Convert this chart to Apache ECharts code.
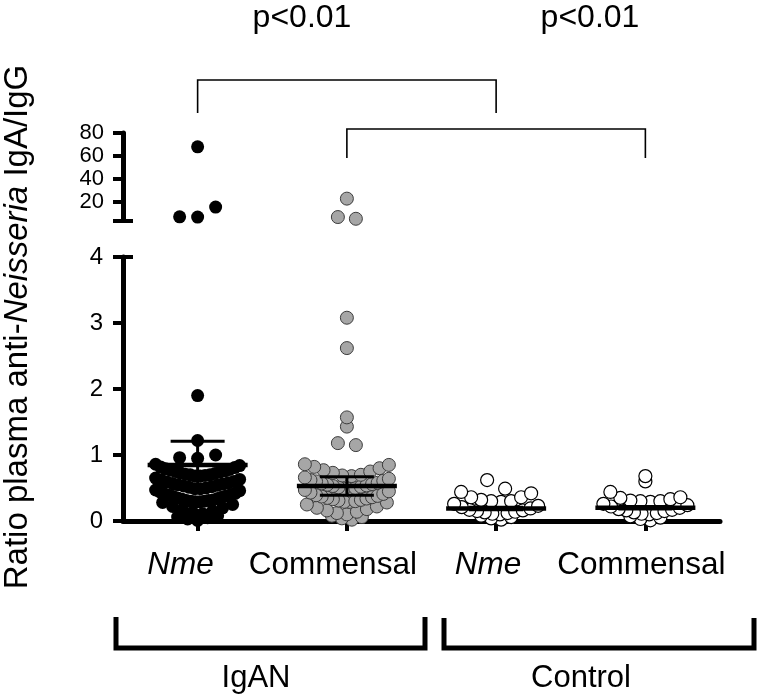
<!DOCTYPE html>
<html><head><meta charset="utf-8">
<script src="https://cdn.jsdelivr.net/npm/echarts@6/dist/echarts.min.js"></script>
<style>html,body{margin:0;padding:0;background:#fff}#c{width:759px;height:698px}</style>
</head><body><div id="c"></div><script>
// ---------------- data ----------------
const categories = ['Nme', 'Commensal', 'Nme', 'Commensal'];
const groupLabels = ['IgAN', 'Control'];
const nmeIgAN = [68, 15.7, 7.2, 7, 1.9, 1.22, 1.0, 0.96, 0.95,
  0.68, 0.68, 0.69, 0.70, 0.70, 0.71, 0.72, 0.73, 0.74, 0.75, 0.76, 0.77, 0.78, 0.79, 0.81, 0.82, 0.84, 0.86,
  0.49, 0.49, 0.50, 0.51, 0.52, 0.53, 0.54, 0.55, 0.56, 0.57, 0.58, 0.59, 0.60, 0.62, 0.63, 0.65,
  0.29, 0.29, 0.30, 0.30, 0.31, 0.31, 0.32, 0.33, 0.34, 0.35, 0.36, 0.37, 0.38, 0.39, 0.40, 0.41, 0.42, 0.44, 0.46, 0.47,
  0.11, 0.13, 0.15, 0.17, 0.20, 0.22, 0.25, 0.28,
  0.01, 0.03, 0.05, 0.06, 0.08];
const commensalIgAN = [23, 7, 5.5, 3.08, 2.62, 1.57, 1.43, 1.18, 1.15,
  0.68, 0.69, 0.70, 0.73, 0.75, 0.77, 0.80, 0.82, 0.85, 0.86,
  0.49, 0.49, 0.50, 0.51, 0.52, 0.53, 0.54, 0.55, 0.56, 0.57, 0.58, 0.60, 0.61, 0.62, 0.64, 0.66,
  0.29, 0.29, 0.30, 0.31, 0.32, 0.33, 0.34, 0.35, 0.36, 0.37, 0.38, 0.39, 0.41, 0.43, 0.45, 0.47,
  0.10, 0.12, 0.14, 0.16, 0.18, 0.20, 0.22, 0.25, 0.28,
  0.02, 0.04, 0.06, 0.08];
const nmeControl = [0.62,
  0.29, 0.30, 0.30, 0.32, 0.36, 0.36, 0.42, 0.44, 0.49,
  0.10, 0.11, 0.12, 0.13, 0.14, 0.15, 0.16, 0.17, 0.19, 0.21, 0.23, 0.26,
  0.02, 0.04, 0.06, 0.08];
const commensalControl = [0.68, 0.60,
  0.29, 0.30, 0.30, 0.31, 0.33, 0.35, 0.36, 0.44,
  0.10, 0.11, 0.12, 0.13, 0.15, 0.16, 0.17, 0.18, 0.20, 0.22, 0.24, 0.26,
  0.01, 0.03, 0.05, 0.07];
const means = [0.85, 0.53, 0.19, 0.20];
const errors = [0.36, 0.14, 0.02, 0.02];
const lowerTicks = [0, 1, 2, 3, 4];
const upperTicks = [20, 40, 60, 80];
const pLabels = ['p<0.01', 'p<0.01'];
const comparisons = [[0, 2], [1, 3]];

// ---------------- layout / style ----------------
const FONT = 'Liberation Sans, Arial, Helvetica, sans-serif';
const BREAK_LOW = 4, UPPER_MAX = 80;
const SYMBOL = 13;
const ROW_MAX_W = 84, SPACING_FEW = 18, SPACING_MANY = 10;
const groupsData = [nmeIgAN, commensalIgAN, nmeControl, commensalControl];
const groupStyles = [
  { color: '#000000', borderColor: '#000000', borderWidth: 0 },
  { color: '#a6a6a6', borderColor: '#3c3c3c', borderWidth: 1 },
  { color: '#ffffff', borderColor: '#000000', borderWidth: 1.2 },
  { color: '#ffffff', borderColor: '#000000', borderWidth: 1.2 }
];

// GraphPad-like dot layout: values binned into rows one symbol high,
// within a row sorted ascending and spread from the centre outwards.
function swarm(vals, binSize, origin) {
  const rows = {};
  vals.forEach(v => {
    const k = Math.floor((v - origin) / binSize);
    (rows[k] = rows[k] || []).push(v);
  });
  const out = [];
  Object.keys(rows).map(Number).sort((a, b) => a - b).forEach(k => {
    const r = rows[k].slice().sort((a, b) => a - b);
    const n = r.length;
    const s = n <= 1 ? 0 : (n <= 3 ? SPACING_FEW : Math.min(SPACING_MANY, ROW_MAX_W / (n - 1)));
    r.forEach((v, i) => {
      let off;
      if (n % 2 === 1) { const j = Math.ceil(i / 2); off = (i % 2 === 1 ? -1 : 1) * j * s; }
      else { const j = Math.floor(i / 2); off = (i % 2 === 0 ? 1 : -1) * (j + 0.5) * s; }
      out.push({ v, off });
    });
  });
  return out;
}

const series = [];
groupsData.forEach((vals, gi) => {
  const low = vals.filter(v => v <= BREAK_LOW);
  const high = vals.filter(v => v > BREAK_LOW);
  const st = groupStyles[gi];
  const mk = (arr, xi, yi) => ({
    type: 'scatter', xAxisIndex: xi, yAxisIndex: yi, symbol: 'circle', symbolSize: SYMBOL,
    clip: false, z: 2, silent: true,
    itemStyle: { color: st.color, borderColor: st.borderColor, borderWidth: st.borderWidth, opacity: 1 },
    data: arr.map(p => ({ value: [gi, p.v], symbolOffset: [p.off, 0] }))
  });
  series.push(mk(swarm(high, 12, BREAK_LOW), 0, 0));
  series.push(mk(swarm(low, 0.195, 0.09), 1, 2));
});

// mean + error bars
series.push({
  type: 'custom', xAxisIndex: 1, yAxisIndex: 2, z: 5, silent: true, clip: false,
  data: means.map((m, i) => [i, m, errors[i]]),
  renderItem(params, api) {
    const x = api.value(0), m = api.value(1), e = api.value(2);
    const c = api.coord([x, m]), t = api.coord([x, m + e]), b = api.coord([x, m - e]);
    const ls = { stroke: '#000', lineWidth: 3 };
    return { type: 'group', children: [
      { type: 'line', shape: { x1: c[0], y1: t[1], x2: c[0], y2: b[1] }, style: ls },
      { type: 'line', shape: { x1: c[0] - 27, y1: t[1], x2: c[0] + 27, y2: t[1] }, style: ls },
      { type: 'line', shape: { x1: c[0] - 27, y1: b[1], x2: c[0] + 27, y2: b[1] }, style: ls },
      { type: 'line', shape: { x1: c[0] - 50, y1: c[1], x2: c[0] + 50, y2: c[1] }, style: { stroke: '#000', lineWidth: 4.5 } }
    ]};
  }
});

// significance brackets (anchored to the category positions)
const bracketRise = [53, 4], bracketDrop = [33, 29];
series.push({
  type: 'custom', xAxisIndex: 0, yAxisIndex: 0, z: 5, silent: true, clip: false,
  data: comparisons,
  renderItem(params, api) {
    const i = params.dataIndex;
    const a = api.coord([api.value(0), UPPER_MAX]), b = api.coord([api.value(1), UPPER_MAX]);
    const top = a[1] - bracketRise[i], bot = top + bracketDrop[i];
    return { type: 'polyline', shape: { points: [[a[0], bot], [a[0], top], [b[0], top], [b[0], bot]] },
      style: { stroke: '#000', lineWidth: 1.6, fill: null } };
  }
});

const labelShift = [34, 28, 16, 8];
const rich = {};
categories.forEach((c, i) => {
  rich['c' + i] = { fontSize: 31.5, lineHeight: 32, fontFamily: FONT, color: '#000',
    fontStyle: c === 'Nme' ? 'italic' : 'normal', padding: [0, labelShift[i], 0, 0] };
});

const gridPos = { left: 123, right: 39 };
const option = {
  animation: false,
  backgroundColor: '#fff',
  grid: [
    Object.assign({ top: 133, height: 87.5, outerBoundsMode: 'none' }, gridPos),
    Object.assign({ top: 257, height: 264, outerBoundsMode: 'none' }, gridPos),
    Object.assign({ top: 133, height: 388, outerBoundsMode: 'none' }, gridPos)
  ],
  xAxis: [
    { gridIndex: 0, type: 'category', data: categories, show: false },
    { gridIndex: 1, type: 'category', data: categories,
      axisLine: { show: true, lineStyle: { color: '#000', width: 5 } },
      axisTick: { show: true, alignWithLabel: true, length: 10, lineStyle: { color: '#000', width: 4 } },
      axisLabel: { interval: 0, margin: 28, formatter: (v, i) => '{c' + i + '|' + v + '}', rich },
      splitLine: { show: false } },
    { gridIndex: 2, type: 'category', data: categories, show: false }
  ],
  yAxis: [
    { gridIndex: 0, type: 'value', min: BREAK_LOW, max: UPPER_MAX, position: 'left',
      axisLine: { show: true, lineStyle: { color: '#000', width: 5 } },
      axisTick: { show: true, length: 10, customValues: [BREAK_LOW].concat(upperTicks), lineStyle: { color: '#000', width: 4 } },
      axisLabel: { customValues: upperTicks, margin: 19, fontSize: 22, color: '#000', fontFamily: FONT, hideOverlap: false },
      splitLine: { show: false } },
    { gridIndex: 0, type: 'value', min: BREAK_LOW, max: UPPER_MAX, position: 'left', offset: 0,
      axisLine: { show: false },
      axisTick: { show: true, inside: true, length: 10, customValues: [BREAK_LOW], lineStyle: { color: '#000', width: 4 } },
      axisLabel: { show: false }, splitLine: { show: false } },
    { gridIndex: 1, type: 'value', min: lowerTicks[0], max: lowerTicks[lowerTicks.length - 1], interval: 1, position: 'left',
      axisLine: { show: true, lineStyle: { color: '#000', width: 5 } },
      axisTick: { show: true, length: 10, lineStyle: { color: '#000', width: 4 } },
      axisLabel: { margin: 20, fontSize: 24, color: '#000', fontFamily: FONT },
      splitLine: { show: false } },
    { gridIndex: 1, type: 'value', min: 0, max: 4, position: 'left', offset: 0,
      axisLine: { show: false },
      axisTick: { show: true, inside: true, length: 10, customValues: [BREAK_LOW], lineStyle: { color: '#000', width: 4 } },
      axisLabel: { show: false }, splitLine: { show: false } },
    { gridIndex: 2, type: 'value', min: 0, max: 1, position: 'left',
      axisLine: { show: false }, axisTick: { show: false }, axisLabel: { show: false }, splitLine: { show: false },
      name: 'Ratio plasma anti-{i|Neisseria} IgA/IgG', nameLocation: 'middle', nameRotate: 90, nameGap: 89,
      nameTextStyle: { fontSize: 33, fontFamily: FONT, color: '#000',
        rich: { i: { fontSize: 33, fontFamily: FONT, color: '#000', fontStyle: 'italic' } } } }
  ],
  graphic: [
    { type: 'text', x: 302, y: 18, style: { text: pLabels[0], fontSize: 32, fontFamily: FONT, fill: '#000', align: 'center', verticalAlign: 'middle' } },
    { type: 'text', x: 590, y: 18, style: { text: pLabels[1], fontSize: 32, fontFamily: FONT, fill: '#000', align: 'center', verticalAlign: 'middle' } },
    { type: 'polyline', shape: { points: [[116, 617], [116, 648], [425, 648], [425, 617]] }, style: { stroke: '#000', lineWidth: 5, fill: null } },
    { type: 'polyline', shape: { points: [[444, 618], [444, 648], [754, 648], [754, 618]] }, style: { stroke: '#000', lineWidth: 5, fill: null } },
    { type: 'text', x: 256, y: 678, style: { text: groupLabels[0], fontSize: 31, fontFamily: FONT, fill: '#000', align: 'center', verticalAlign: 'middle' } },
    { type: 'text', x: 581, y: 678, style: { text: groupLabels[1], fontSize: 31, fontFamily: FONT, fill: '#000', align: 'center', verticalAlign: 'middle' } }
  ],
  series
};
const chart = echarts.init(document.getElementById('c'), null, { renderer: 'canvas' });
chart.setOption(option);
</script></body></html>
